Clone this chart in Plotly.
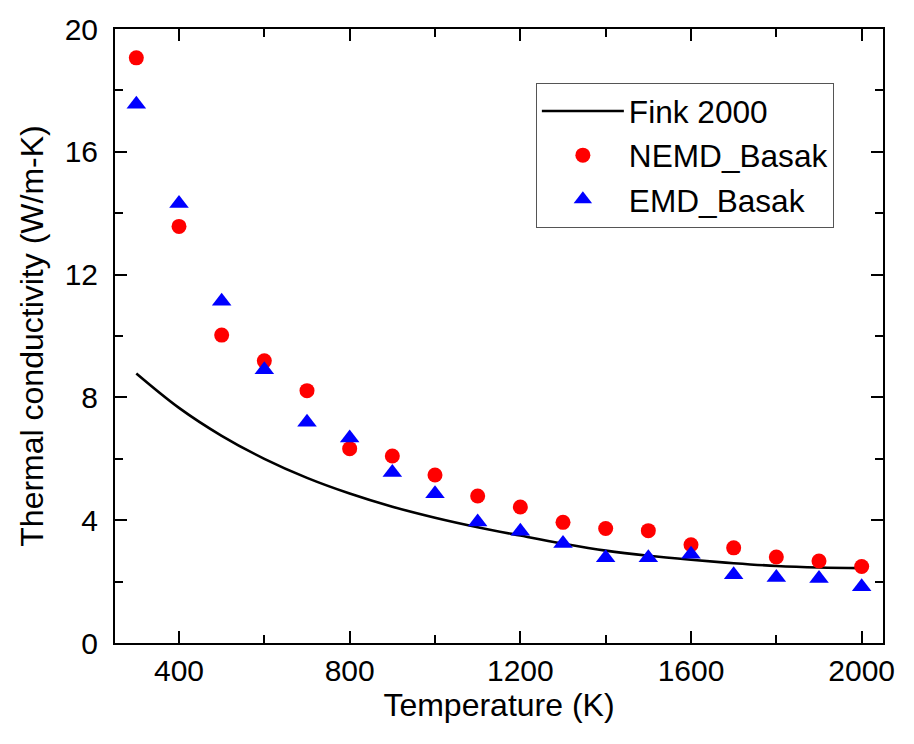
import plotly.graph_objects as go

# Temperature grid (K)
temps = [300, 400, 500, 600, 700, 800, 900, 1000, 1100, 1200,
         1300, 1400, 1500, 1600, 1700, 1800, 1900, 2000]

# Fink 2000 recommended conductivity (W/m-K)
fink_k = [8.78, 7.66, 6.75, 6.00, 5.38, 4.87, 4.44, 4.08, 3.77, 3.50,
          3.24, 3.01, 2.84, 2.71, 2.60, 2.51, 2.46, 2.44]

# Non-equilibrium MD results
nemd_k = [19.06, 13.57, 10.03, 9.19, 8.22, 6.33, 6.09, 5.47, 4.79, 4.43,
          3.93, 3.73, 3.66, 3.20, 3.10, 2.80, 2.67, 2.49]

# Equilibrium MD results
emd_k = [17.55, 14.32, 11.13, 8.90, 7.19, 6.68, 5.55, 4.86, 3.94, 3.64,
         3.24, 2.78, 2.78, 2.89, 2.22, 2.13, 2.10, 1.83]

x_ticks = [400, 800, 1200, 1600, 2000]
y_ticks = [0, 4, 8, 12, 16, 20]

FONT = "Liberation Sans, Arial, sans-serif"

fig = go.Figure()
fig.add_trace(go.Scatter(
    x=temps, y=fink_k, mode="lines", name="Fink 2000",
    line=dict(color="black", width=2.6, shape="spline"),
))
fig.add_trace(go.Scatter(
    x=temps, y=nemd_k, mode="markers", name="NEMD_Basak",
    marker=dict(symbol="circle", size=15, color="#ff0000"),
))
fig.add_trace(go.Scatter(
    x=temps, y=emd_k, mode="markers", name="EMD_Basak",
    marker=dict(symbol="triangle-up", size=17, color="#0000ff"),
))

axis_common = dict(
    showline=True, linecolor="black", linewidth=2,
    mirror="ticks", ticks="inside", tickcolor="black", tickwidth=2,
    ticklen=12, showgrid=False, zeroline=False,
    tickfont=dict(family=FONT, size=30, color="black"),
    minor=dict(ticks="inside", ticklen=8, tickwidth=2, tickcolor="black", showgrid=False),
)

fig.update_xaxes(
    range=[250, 2050], tickmode="array", tickvals=x_ticks,
    minor_dtick=200,
    title=dict(text="Temperature (K)", font=dict(family=FONT, size=32, color="black"), standoff=0),
    ticklabelstandoff=0,
    **axis_common,
)
fig.update_yaxes(
    range=[0, 20], tickmode="array", tickvals=y_ticks,
    minor_dtick=2,
    title=dict(text="Thermal conductivity (W/m-K)", font=dict(family=FONT, size=32, color="black"), standoff=11),
    ticklabelstandoff=9,
    **axis_common,
)

fig.update_layout(
    width=914, height=744,
    margin=dict(l=115, r=31, t=24, b=101),
    paper_bgcolor="white", plot_bgcolor="white",
    font=dict(family=FONT, color="black"),
    showlegend=True,
    legend=dict(
        x=0.548, y=0.912, xanchor="left", yanchor="top",
        bgcolor="white", bordercolor="#555555", borderwidth=1,
        font=dict(family=FONT, size=31.6, color="black"),
        itemwidth=82,
    ),
)

fig.write_html("out.html")
